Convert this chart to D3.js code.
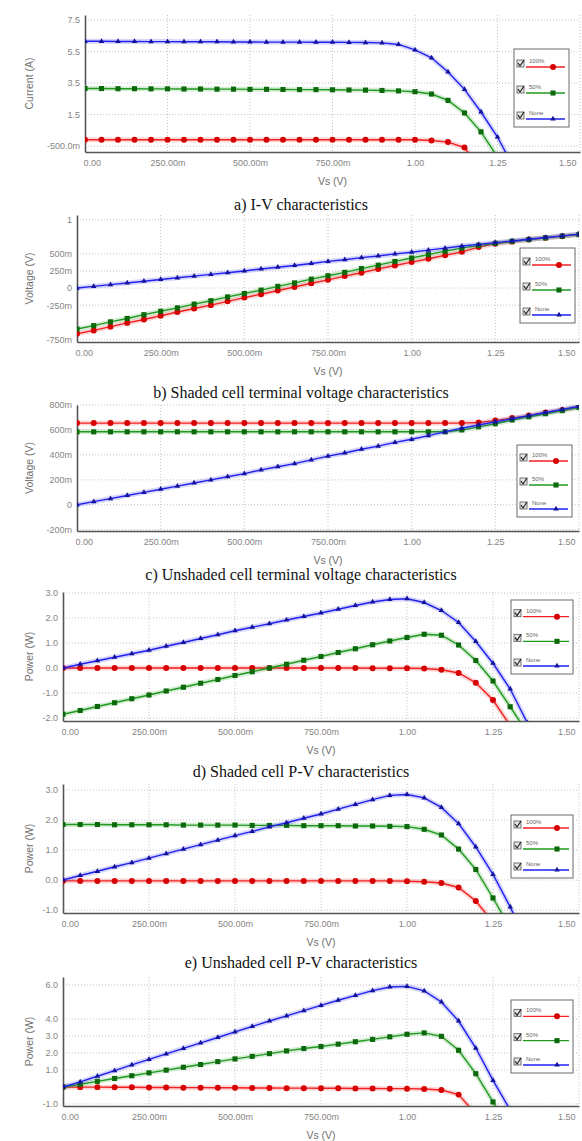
<!DOCTYPE html>
<html>
<head>
<meta charset="utf-8">
<script src="https://cdn.jsdelivr.net/npm/d3@7.9.0/dist/d3.min.js"></script>
<style>
  html, body { margin: 0; padding: 0; background: #fff; }
  svg { display: block; }
  .tick text { font-family: "Liberation Sans", Arial, sans-serif; font-size: 9px; fill: #858585; }
  .axis-title { font-family: "Liberation Sans", Arial, sans-serif; font-size: 10.5px; fill: #707070; }
  .caption { font-family: "Liberation Serif", "Times New Roman", serif; font-size: 16px; fill: #111; }
  .legend-label { font-family: "Liberation Sans", Arial, sans-serif; font-size: 6px; fill: #666; }
</style>
</head>
<body>
<svg id="chart" width="582" height="1141"></svg>
<script>
// Vs sweep points (V)
const vs = [0, 0.05, 0.1, 0.15, 0.2, 0.25, 0.3, 0.35, 0.4, 0.45, 0.5, 0.55, 0.6, 0.65, 0.7, 0.75,
  0.8, 0.85, 0.9, 0.95, 1.0, 1.05, 1.1, 1.15, 1.2, 1.25, 1.3, 1.35, 1.4, 1.45, 1.5];
const seriesNames = ['100%', '50%', 'None'];
const xTicks = [0, 0.25, 0.5, 0.75, 1, 1.25, 1.5];
const xTickLabels = ['0.00', '250.00m', '500.00m', '750.00m', '1.00', '1.25', '1.50'];

// a) I-V characteristics (A)
const iv100 = [-0.1, -0.1, -0.1, -0.1, -0.1, -0.1, -0.1, -0.1, -0.1, -0.1, -0.1, -0.1, -0.1, -0.1, -0.1, -0.1,
  -0.1, -0.1, -0.1, -0.1, -0.1, -0.15, -0.25, -0.6, -2.0, null, null, null, null, null, null];
const iv50 = [3.15, 3.15, 3.14, 3.14, 3.13, 3.13, 3.12, 3.12, 3.11, 3.11, 3.1, 3.1, 3.09, 3.08, 3.08, 3.07,
  3.06, 3.05, 3.03, 3.0, 2.95, 2.8, 2.4, 1.6, 0.4, -1.2, null, null, null, null, null];
const ivNone = [6.15, 6.15, 6.14, 6.14, 6.13, 6.13, 6.12, 6.12, 6.12, 6.11, 6.11, 6.1, 6.1, 6.1, 6.09, 6.09,
  6.08, 6.07, 6.05, 5.95, 5.6, 5.1, 4.2, 3.1, 1.66, 0.07, -1.9, null, null, null, null];
const ivTicks = [7.5, 5.5, 3.5, 1.5, -0.5];
const ivTickLabels = ['7.5', '5.5', '3.5', '1.5', '-500.0m'];

// b) shaded cell terminal voltage (V)
const shVolt100 = [-0.67, -0.62, -0.565, -0.51, -0.46, -0.405, -0.35, -0.3, -0.25, -0.195, -0.14, -0.09, -0.035, 0.015, 0.07, 0.12,
  0.175, 0.225, 0.28, 0.33, 0.38, 0.43, 0.48, 0.53, 0.6, 0.65, 0.68, 0.71, 0.735, 0.76, 0.785];
const shVolt50 = [-0.6, -0.55, -0.495, -0.445, -0.39, -0.34, -0.29, -0.235, -0.185, -0.13, -0.08, -0.03, 0.025, 0.075, 0.13, 0.18,
  0.23, 0.285, 0.335, 0.39, 0.44, 0.49, 0.54, 0.585, 0.625, 0.655, 0.685, 0.71, 0.735, 0.76, 0.785];
const shVoltNone = [0, 0.025, 0.05, 0.075, 0.1, 0.125, 0.15, 0.175, 0.2, 0.225, 0.25, 0.28, 0.305, 0.33, 0.36, 0.39,
  0.415, 0.445, 0.47, 0.5, 0.525, 0.555, 0.585, 0.615, 0.64, 0.665, 0.69, 0.715, 0.74, 0.765, 0.79];
const shVoltTicks = [1, 0.5, 0.25, 0, -0.25, -0.75];
const shVoltTickLabels = ['1', '500m', '250m', '0', '-250m', '-750m'];

// c) unshaded cell terminal voltage (V)
const unVolt100 = [0.655, 0.655, 0.655, 0.655, 0.655, 0.655, 0.655, 0.655, 0.655, 0.655, 0.655, 0.655, 0.655, 0.655, 0.655, 0.655,
  0.655, 0.655, 0.655, 0.655, 0.655, 0.655, 0.655, 0.655, 0.66, 0.675, 0.695, 0.715, 0.74, 0.76, 0.785];
const unVolt50 = [0.585, 0.585, 0.585, 0.585, 0.585, 0.585, 0.585, 0.585, 0.585, 0.585, 0.585, 0.585, 0.585, 0.585, 0.585, 0.585,
  0.585, 0.585, 0.585, 0.585, 0.585, 0.585, 0.585, 0.6, 0.625, 0.65, 0.68, 0.705, 0.73, 0.755, 0.78];
const unVoltNone = [0, 0.025, 0.05, 0.075, 0.1, 0.125, 0.15, 0.175, 0.2, 0.225, 0.25, 0.28, 0.305, 0.33, 0.36, 0.39,
  0.415, 0.445, 0.47, 0.5, 0.525, 0.555, 0.585, 0.615, 0.64, 0.665, 0.69, 0.715, 0.74, 0.765, 0.79];
const unVoltTicks = [0.8, 0.6, 0.4, 0.2, 0, -0.2];
const unVoltTickLabels = ['800m', '600m', '400m', '200m', '0', '-200m'];

// d) shaded cell power (W)
const shPow100 = [0, 0, 0, 0, 0, 0, 0, 0, 0, 0, 0, 0, 0, 0, 0, 0,
  0, 0, -0.01, -0.01, -0.01, -0.02, -0.07, -0.2, -0.59, -1.28, -2.3, null, null, null, null];
const shPow50 = [-1.85, -1.7, -1.54, -1.39, -1.23, -1.08, -0.92, -0.77, -0.61, -0.46, -0.3, -0.15, 0.0, 0.15, 0.31, 0.46,
  0.62, 0.77, 0.93, 1.08, 1.22, 1.35, 1.31, 0.92, 0.3, -0.52, -1.55, -2.6, null, null, null];
const shPowNone = [0, 0.15, 0.29, 0.43, 0.57, 0.71, 0.87, 1.02, 1.18, 1.33, 1.49, 1.63, 1.77, 1.92, 2.06, 2.2,
  2.35, 2.5, 2.64, 2.74, 2.77, 2.62, 2.3, 1.82, 1.06, 0.19, -0.84, -2.2, null, null, null];
const shPowTicks = [3, 2, 1, 0, -1, -2];
const shPowTickLabels = ['3.0', '2.0', '1.0', '0.0', '-1.0', '-2.0'];

// e) unshaded cell power (W)
const unPow100 = [-0.03, -0.03, -0.03, -0.03, -0.03, -0.03, -0.03, -0.03, -0.03, -0.03, -0.03, -0.03, -0.03, -0.03, -0.03, -0.03,
  -0.03, -0.03, -0.03, -0.03, -0.04, -0.06, -0.1, -0.25, -0.7, -1.4, null, null, null, null, null];
const unPow50 = [1.85, 1.85, 1.85, 1.84, 1.84, 1.84, 1.84, 1.83, 1.83, 1.83, 1.83, 1.82, 1.82, 1.82, 1.81, 1.81,
  1.81, 1.8, 1.8, 1.79, 1.78, 1.69, 1.5, 1.03, 0.35, -0.6, -1.6, null, null, null, null];
const unPowNone = [0, 0.15, 0.29, 0.44, 0.58, 0.73, 0.88, 1.03, 1.18, 1.33, 1.48, 1.62, 1.77, 1.91, 2.06, 2.2,
  2.36, 2.52, 2.68, 2.82, 2.85, 2.74, 2.42, 1.88, 1.1, 0.19, -0.9, -2.1, null, null, null];
const unPowTicks = [3, 2, 1, 0, -1];
const unPowTickLabels = ['3.0', '2.0', '1.0', '0.0', '-1.0'];

// f) string P-V (W)
const totPow100 = [0, -0.01, -0.01, -0.02, -0.02, -0.03, -0.03, -0.04, -0.04, -0.05, -0.05, -0.06, -0.06, -0.07, -0.07, -0.08,
  -0.08, -0.09, -0.09, -0.1, -0.1, -0.12, -0.18, -0.45, -1.6, null, null, null, null, null, null];
const totPow50 = [0, 0.16, 0.33, 0.5, 0.66, 0.83, 0.99, 1.16, 1.32, 1.49, 1.65, 1.8, 1.96, 2.12, 2.26, 2.38,
  2.52, 2.66, 2.8, 2.95, 3.1, 3.18, 2.98, 2.16, 0.78, -0.88, -2.6, null, null, null, null];
const totPowNone = [0, 0.3, 0.63, 0.96, 1.3, 1.62, 1.95, 2.27, 2.59, 2.91, 3.24, 3.56, 3.88, 4.18, 4.49, 4.8,
  5.1, 5.39, 5.67, 5.88, 5.92, 5.65, 5.0, 3.88, 2.29, 0.39, -1.35, null, null, null, null];
const totPowTicks = [6, 4, 3, 2, 1, -1];
const totPowTickLabels = ['6.0', '4.0', '3.0', '2.0', '1.0', '-1.0'];

// layout of each sub-chart
const panels = [
  { series: [iv100, iv50, ivNone], yTicks: ivTicks, yLabels: ivTickLabels, yDomain: [-0.88, 7.82],
    yTitle: 'Current (A)', caption: 'a)  I-V characteristics', captionY: 210,
    box: { left: 85, right: 580, top: 15, bottom: 152 }, legend: { left: 514, top: 49, right: 569, bottom: 127 } },
  { series: [shVolt100, shVolt50, shVoltNone], yTicks: shVoltTicks, yLabels: shVoltTickLabels, yDomain: [-0.79, 1.07],
    yTitle: 'Voltage (V)', caption: 'b)  Shaded cell terminal voltage characteristics', captionY: 398,
    box: { left: 77, right: 579, top: 215, bottom: 342 }, legend: { left: 520, top: 248, right: 575, bottom: 323 } },
  { series: [unVolt100, unVolt50, unVoltNone], yTicks: unVoltTicks, yLabels: unVoltTickLabels, yDomain: [-0.21, 0.8],
    yTitle: 'Voltage (V)', caption: 'c)  Unshaded cell terminal voltage characteristics', captionY: 580,
    box: { left: 77, right: 579, top: 405, bottom: 531 }, legend: { left: 517, top: 445, right: 572, bottom: 517 } },
  { series: [shPow100, shPow50, shPowNone], yTicks: shPowTicks, yLabels: shPowTickLabels, yDomain: [-2.12, 3.04],
    yTitle: 'Power (W)', caption: 'd)  Shaded cell P-V characteristics', captionY: 777,
    box: { left: 63, right: 579, top: 592, bottom: 721 }, legend: { left: 511, top: 600, right: 573, bottom: 674 } },
  { series: [unPow100, unPow50, unPowNone], yTicks: unPowTicks, yLabels: unPowTickLabels, yDomain: [-1.1, 3.2],
    yTitle: 'Power (W)', caption: 'e)  Unshaded cell P-V characteristics', captionY: 968,
    box: { left: 63, right: 579, top: 784, bottom: 913 }, legend: { left: 511, top: 815, right: 573, bottom: 878 } },
  { series: [totPow100, totPow50, totPowNone], yTicks: totPowTicks, yLabels: totPowTickLabels, yDomain: [-1.12, 6.47],
    yTitle: 'Power (W)', caption: null, captionY: null,
    box: { left: 63, right: 579, top: 977, bottom: 1106 }, legend: { left: 511, top: 1000, right: 573, bottom: 1073 } }
];

const lineColors = ['#f22020', '#1f9a1f', '#2020f0'];
const markerColors = ['#d60000', '#0b680b', '#12129a'];
const markerTypes = [d3.symbolCircle, d3.symbolSquare, d3.symbolTriangle];
const markerSizes = [28, 26, 13];

const svg = d3.select('#chart');

function drawLegend(lg) {
  const g = svg.append('g');
  g.append('rect')
    .attr('x', lg.left).attr('y', lg.top)
    .attr('width', lg.right - lg.left).attr('height', lg.bottom - lg.top)
    .attr('fill', '#fff').attr('stroke', '#6a6a6a').attr('stroke-width', 1);
  const step = (lg.bottom - lg.top) / 3;
  seriesNames.forEach((name, i) => {
    const ly = lg.top + step * (i + 1) - 8;
    g.append('rect')
      .attr('x', lg.left + 3).attr('y', ly - 7).attr('width', 7).attr('height', 7)
      .attr('fill', '#e6e6e6').attr('stroke', '#555').attr('stroke-width', 0.8);
    g.append('path')
      .attr('d', `M${lg.left + 4},${ly - 4} l2,3 l4,-6`)
      .attr('fill', 'none').attr('stroke', '#222').attr('stroke-width', 1.2);
    g.append('text').attr('class', 'legend-label')
      .attr('x', lg.left + 15).attr('y', ly - 4).text(name);
    g.append('line')
      .attr('x1', lg.left + 12).attr('x2', lg.right - 4).attr('y1', ly).attr('y2', ly)
      .attr('stroke', lineColors[i]).attr('stroke-width', 1.4);
    g.append('path')
      .attr('d', d3.symbol().type(markerTypes[i]).size(markerSizes[i])())
      .attr('transform', `translate(${lg.right - 16},${ly})`)
      .attr('fill', markerColors[i]);
  });
}

panels.forEach((p, pi) => {
  const b = p.box;
  const x = d3.scaleLinear().domain([0, 1.5]).range([b.left, b.right]);
  const y = d3.scaleLinear().domain(p.yDomain).range([b.bottom, b.top]);

  svg.append('clipPath').attr('id', 'clip' + pi)
    .append('rect').attr('x', b.left).attr('y', b.top)
    .attr('width', b.right - b.left).attr('height', b.bottom - b.top);

  // dotted grid
  const grid = svg.append('g').attr('stroke', '#c4c4c4').attr('stroke-dasharray', '1,2');
  grid.selectAll('.vg').data(xTicks.slice(1)).join('line')
    .attr('x1', d => x(d)).attr('x2', d => x(d)).attr('y1', b.top).attr('y2', b.bottom);
  grid.selectAll('.hg').data(p.yTicks).join('line')
    .attr('x1', b.left).attr('x2', b.right).attr('y1', d => y(d)).attr('y2', d => y(d));

  // axes
  const xAxis = svg.append('g')
    .attr('transform', `translate(0,${b.bottom})`)
    .call(d3.axisBottom(x).tickValues(xTicks).tickFormat((d, i) => xTickLabels[i])
      .tickSize(0).tickSizeOuter(0).tickPadding(8));
  xAxis.selectAll('.tick text')
    .attr('text-anchor', (d, i) => i === 0 ? 'start' : (i === xTicks.length - 1 ? 'end' : 'middle'))
    .attr('dx', (d, i) => i === 0 ? -2 : (i === xTicks.length - 1 ? -4 : 0));

  const yAxis = svg.append('g')
    .attr('transform', `translate(${b.left},0)`)
    .call(d3.axisLeft(y).tickValues(p.yTicks).tickFormat((d, i) => p.yLabels[i])
      .tickSize(0).tickSizeOuter(0).tickPadding(5));

  [xAxis, yAxis].forEach(a => a.select('.domain').attr('stroke', '#555').attr('stroke-width', 1.6));

  svg.append('text').attr('class', 'axis-title')
    .attr('x', (b.left + b.right) / 2).attr('y', b.bottom + 33)
    .attr('text-anchor', 'middle').text('Vs (V)');
  svg.append('text').attr('class', 'axis-title')
    .attr('transform', `translate(33,${(b.top + b.bottom) / 2}) rotate(-90)`)
    .attr('text-anchor', 'middle').text(p.yTitle);

  // curves
  const plot = svg.append('g').attr('clip-path', `url(#clip${pi})`);
  const line = d3.line()
    .defined(d => d[1] !== null)
    .x(d => x(d[0])).y(d => y(d[1]));

  p.series.forEach((values, si) => {
    const pts = vs.map((v, k) => [v, values[k]]);
    plot.append('path').datum(pts)
      .attr('d', line).attr('fill', 'none')
      .attr('stroke', lineColors[si]).attr('stroke-width', 5).attr('stroke-opacity', 0.18);
    plot.append('path').datum(pts)
      .attr('d', line).attr('fill', 'none')
      .attr('stroke', lineColors[si]).attr('stroke-width', 1.4);
    plot.selectAll(null).data(pts.filter(d => d[1] !== null)).join('path')
      .attr('d', d3.symbol().type(markerTypes[si]).size(markerSizes[si]))
      .attr('transform', d => `translate(${x(d[0])},${y(d[1])})`)
      .attr('fill', markerColors[si]);
  });

  drawLegend(p.legend);

  if (p.caption) {
    svg.append('text').attr('class', 'caption')
      .attr('x', 301).attr('y', p.captionY)
      .attr('text-anchor', 'middle').text(p.caption);
  }
});
</script>
</body>
</html>
